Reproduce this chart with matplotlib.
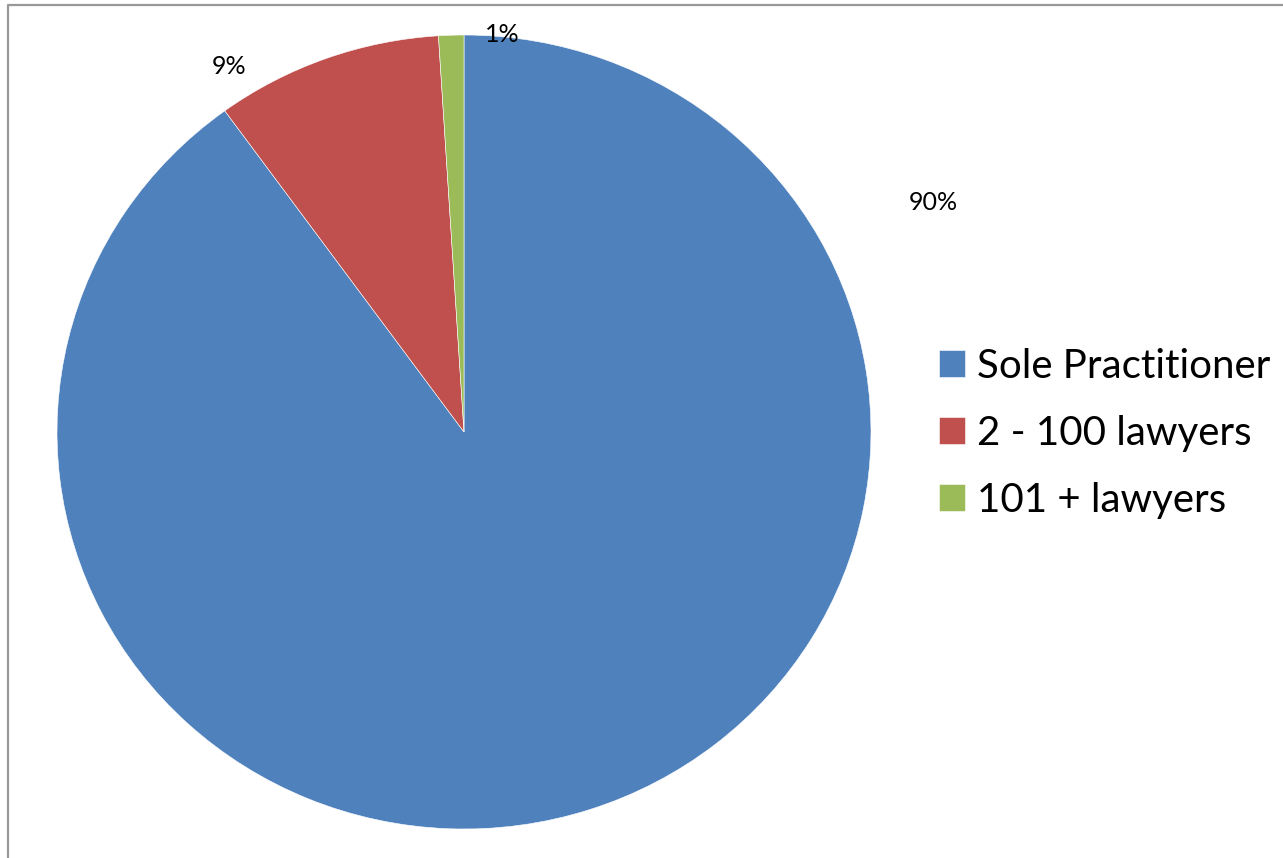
import matplotlib
matplotlib.use("Agg")
import matplotlib.pyplot as plt
from matplotlib.lines import Line2D

categories = ["Sole Practitioner", "2 - 100 lawyers", "101 + lawyers"]
values = [90, 9, 1]
colors = ["#4F81BD", "#C0504D", "#9BBB59"]

plt.rcParams['font.family'] = ['Lato', 'DejaVu Sans']

W, H = 1283, 858
fig = plt.figure(figsize=(W / 100, H / 100), dpi=100)
fig.patch.set_facecolor("white")

cx, cy, rx, ry = 464, 432, 407, 397
ax = fig.add_axes([(cx - rx) / W, (H - cy - ry) / H, 2 * rx / W, 2 * ry / H])
wedges, _ = ax.pie(values, colors=colors, startangle=90, counterclock=False,
                   wedgeprops=dict(edgecolor="white", linewidth=0.4))
ax.set_aspect('auto')
ax.set_xlim(-1, 1)
ax.set_ylim(-1, 1)
ax.axis('off')

# data label positions (pixel offsets from centre, Excel best-fit placement)
label_pos = [(469, 229), (-235, 365), (38, 397)]
for v, (dx, dy) in zip(values, label_pos):
    ax.text(dx / rx, dy / ry, f"{v}%", ha="center", va="center",
            fontsize=18, color="black", clip_on=False)

fs = 29
fpx = fs * 100 / 72
leg = fig.legend(wedges, categories, loc="upper left",
                 bbox_to_anchor=(939 / W, 1 - 348 / H), frameon=False,
                 fontsize=fs, handlelength=26 / fpx, handleheight=26 / fpx,
                 handletextpad=12 / fpx, labelspacing=0.74, borderpad=0,
                 borderaxespad=0)

# outer chart frame (gray, partially visible)
fig.add_artist(Line2D([7.5 / W, 7.5 / W, 1.01], [-0.01, 1 - 5 / H, 1 - 5 / H],
                      transform=fig.transFigure, color="#989898", linewidth=1.6))

fig.savefig("out.png", dpi=100, facecolor="white")
